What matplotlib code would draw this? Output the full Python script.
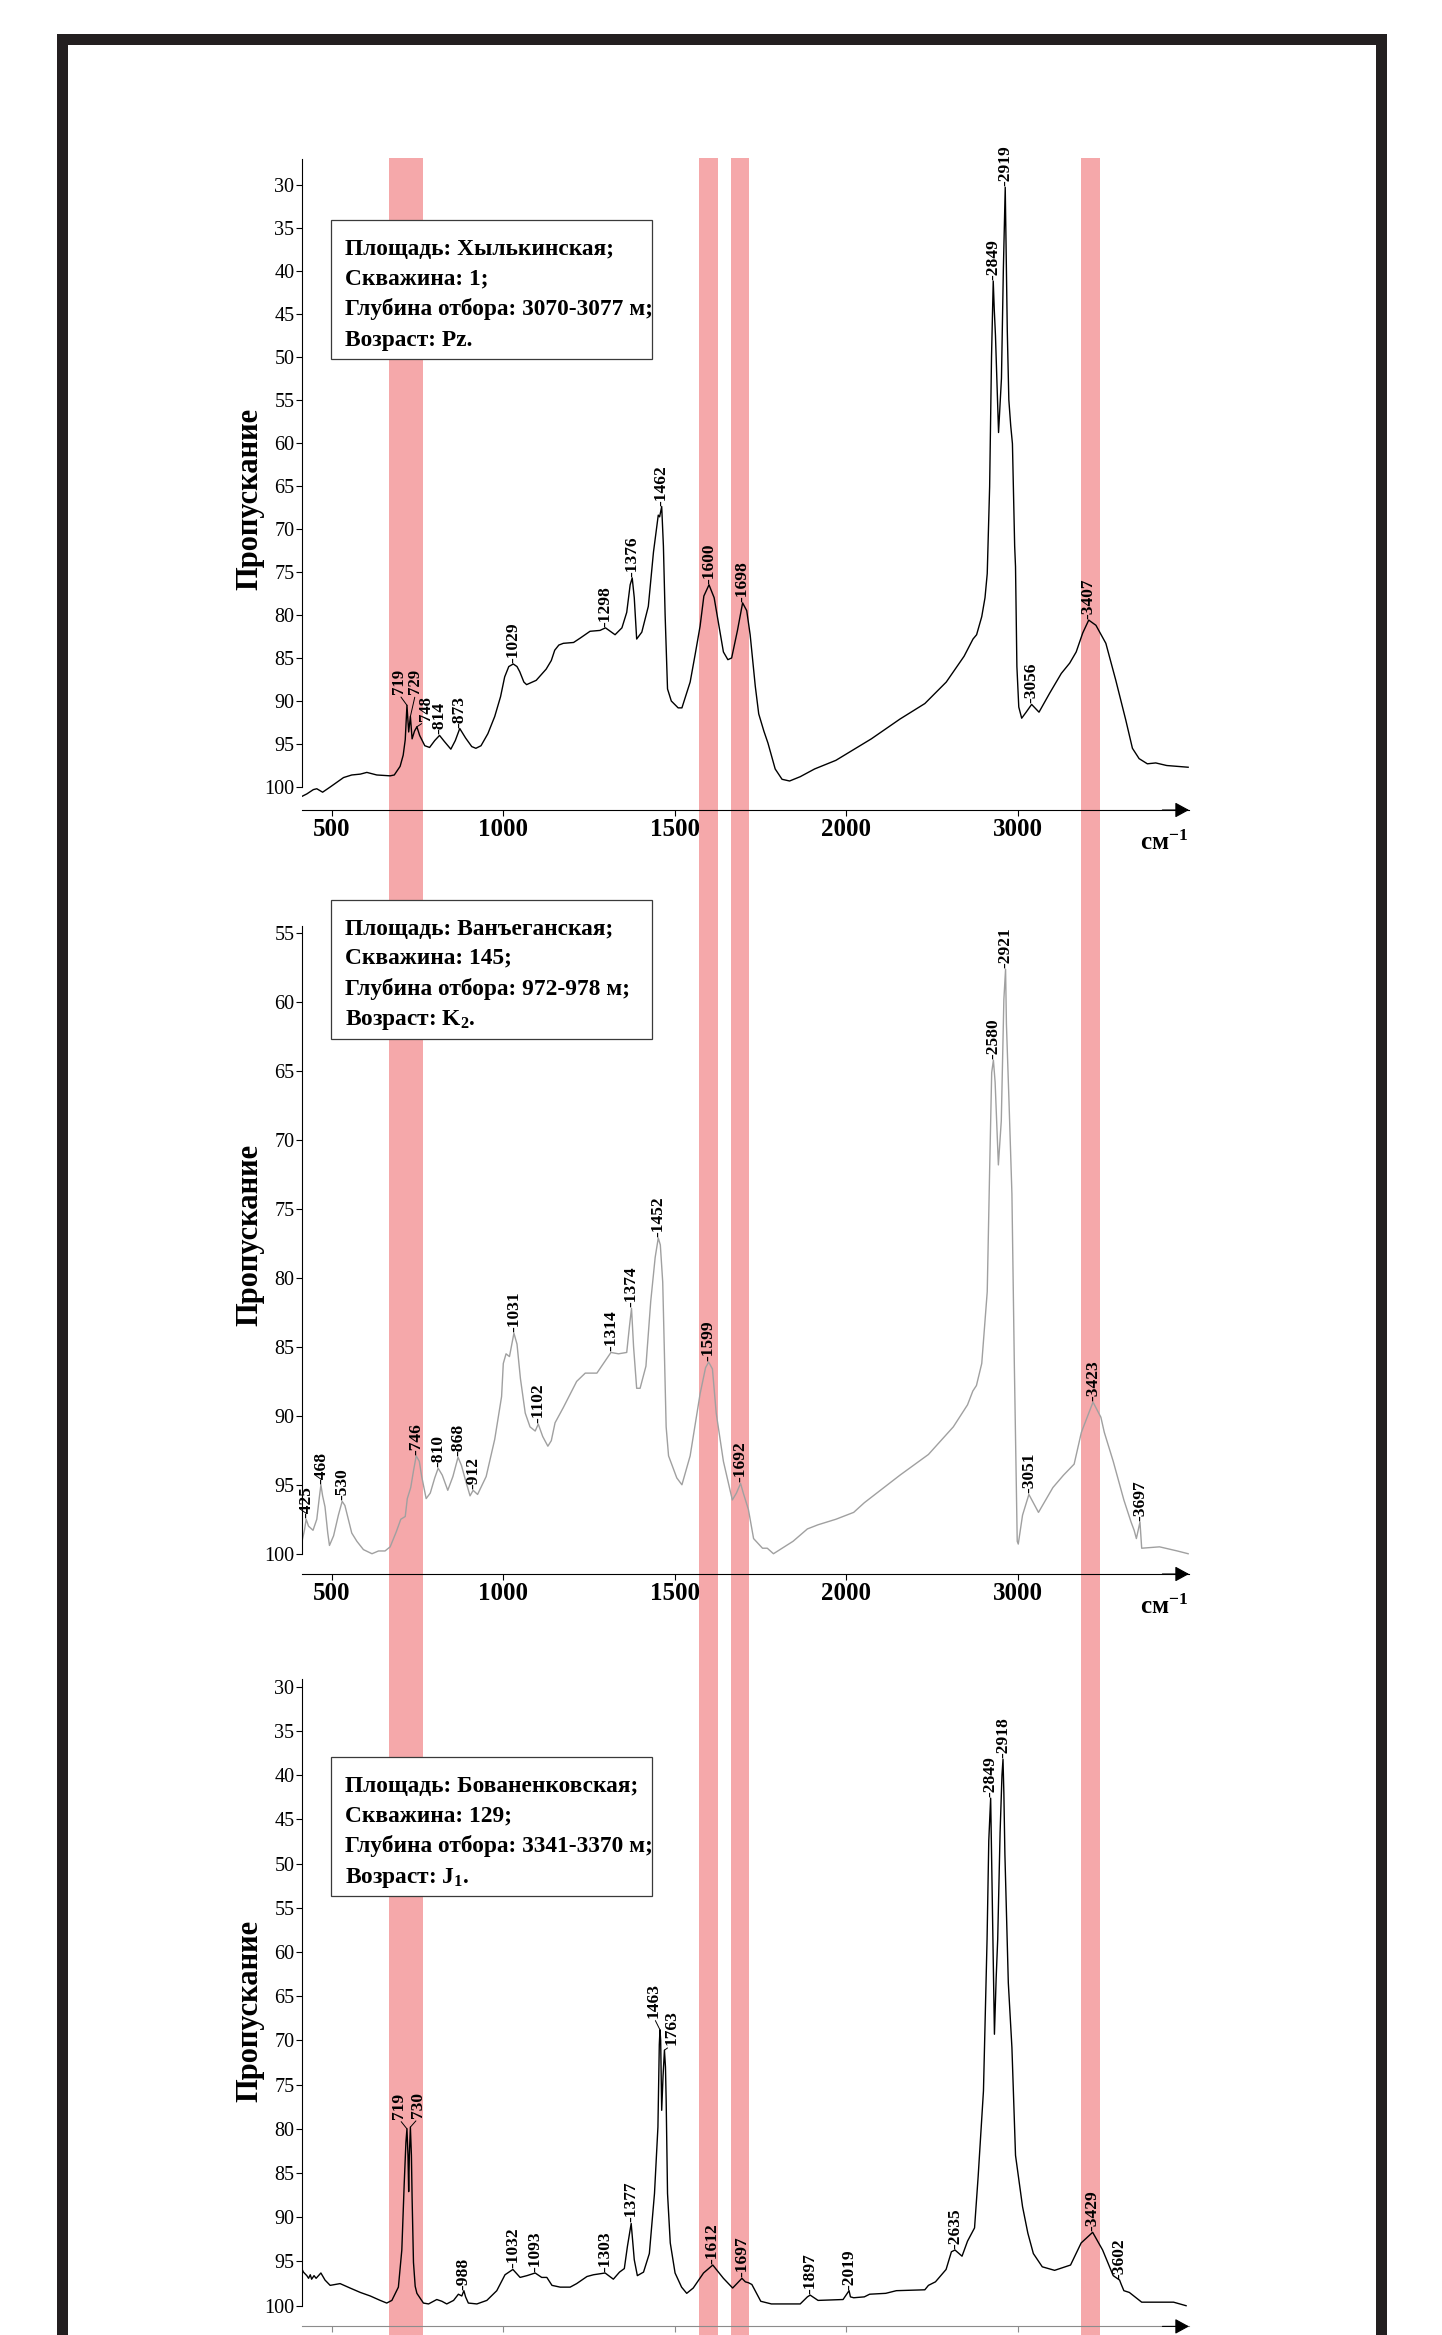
import numpy as np
import matplotlib
matplotlib.use('Agg')
from matplotlib import pyplot as plt
from matplotlib.patches import Rectangle

plt.rcParams['font.family'] = ['Liberation Serif', 'DejaVu Serif']
plt.rcParams['mathtext.fontset'] = 'custom'
plt.rcParams['mathtext.rm'] = 'Liberation Serif:bold'
plt.rcParams['mathtext.it'] = 'Liberation Serif:bold'
plt.rcParams['mathtext.bf'] = 'Liberation Serif:bold'

W, H = 1442, 2335

# absorption bands highlighted across all spectra, cm-1
bands = [(667, 765), (1571, 1625), (1664, 1718), (3370, 3478)]

xticks = [500, 1000, 1500, 2000, 3000]
xtick_labels = ['500', '1000', '1500', '2000', '3000']

# spectrum 1 (wavenumber, transmittance)
spec_1 = np.array([
    (412, 101.1), (427, 100.8), (446, 100.3), (456, 100.2), (473, 100.6), (495, 100.0),
    (534, 98.9), (558, 98.6), (583, 98.5), (602, 98.3), (631, 98.6), (670, 98.7),
    (682, 98.6), (699, 97.6), (708, 96.3), (714, 94.5), (719, 90.5), (724, 93.6),
    (729, 91.8), (734, 94.4), (741, 93.5), (748, 93.0), (756, 94.0), (771, 95.2),
    (785, 95.4), (800, 94.6), (814, 94.0), (828, 94.7), (847, 95.6), (860, 94.6),
    (873, 93.2), (890, 94.3), (908, 95.3), (920, 95.5), (935, 95.2), (955, 93.8),
    (975, 91.8), (992, 89.5), (1004, 87.2), (1016, 86.0), (1029, 85.7), (1040, 86.0),
    (1048, 86.6), (1060, 87.8), (1068, 88.1), (1096, 87.6), (1125, 86.3), (1140, 85.3),
    (1150, 84.1), (1162, 83.5), (1175, 83.3), (1205, 83.2), (1224, 82.7), (1253, 81.9),
    (1282, 81.8), (1298, 81.5), (1312, 81.9), (1326, 82.3), (1346, 81.5), (1360, 79.7),
    (1370, 76.5), (1376, 75.7), (1382, 78.0), (1389, 82.8), (1404, 82.0), (1423, 79.0),
    (1438, 72.7), (1452, 68.4), (1456, 68.6), (1462, 67.4), (1467, 72.0), (1472, 80.0),
    (1479, 88.6), (1490, 90.0), (1510, 90.8), (1521, 90.8), (1545, 87.8), (1560, 84.5),
    (1574, 81.3), (1585, 77.8), (1600, 76.5), (1615, 78.0), (1630, 81.5), (1642, 84.3),
    (1655, 85.2), (1666, 85.0), (1683, 81.8), (1698, 78.6), (1710, 79.5), (1720, 82.3),
    (1735, 88.3), (1745, 91.5), (1760, 93.5), (1772, 94.9), (1793, 97.9), (1813, 99.1),
    (1835, 99.3), (1866, 98.8), (1908, 97.9), (1970, 96.9), (2023, 95.9), (2147, 94.4),
    (2314, 92.1), (2459, 90.3), (2584, 87.8), (2688, 84.8), (2740, 82.8), (2761, 82.3),
    (2791, 80.2), (2810, 78.0), (2823, 75.2), (2837, 65.1), (2848, 50.0), (2858, 41.2),
    (2864, 44.5), (2871, 47.5), (2889, 58.8), (2906, 52.5), (2917, 39.9), (2928, 30.3),
    (2933, 37.4), (2940, 47.0), (2949, 55.0), (2960, 58.0), (2970, 60.1), (2983, 72.0),
    (2988, 74.4), (2996, 86.0), (3007, 90.7), (3024, 92.0), (3050, 91.3), (3082, 90.4),
    (3125, 91.3), (3187, 89.1), (3255, 86.8), (3304, 85.6), (3342, 84.3), (3380, 82.1),
    (3415, 80.6), (3457, 81.2), (3515, 83.3), (3573, 87.6), (3631, 92.2), (3670, 95.5),
    (3709, 96.7), (3757, 97.3), (3806, 97.2), (3870, 97.5), (3995, 97.7),
])
peak_x_1 = [719, 729, 748, 814, 873, 1029, 1298, 1376, 1462, 1600, 1698, 2858, 2928, 3082, 3415]
peak_lbl_1 = ['719', '729', '748', '814', '873', '1029', '1298', '1376', '1462', '1600', '1698',
              '2849', '2919', '3056', '3407']
info_1 = ['Площадь: Хылькинская;', 'Скважина: 1;', 'Глубина отбора: 3070-3077 м;', 'Возраст: Pz.']

# spectrum 2
spec_2 = np.array([
    (412, 99.2), (420, 98.3), (425, 97.5), (432, 98.0), (445, 98.3), (456, 97.5),
    (463, 96.0), (468, 95.0), (473, 95.8), (480, 96.6), (488, 98.5), (493, 99.4),
    (505, 98.7), (519, 97.2), (530, 96.2), (538, 96.5), (548, 97.5), (558, 98.5),
    (573, 99.1), (592, 99.7), (617, 100.0), (636, 99.8), (655, 99.8), (670, 99.5),
    (688, 98.4), (701, 97.5), (714, 97.3), (720, 96.0), (730, 95.2), (738, 94.0),
    (746, 92.9), (755, 93.3), (762, 94.4), (775, 96.0), (787, 95.6), (800, 94.5),
    (810, 93.8), (822, 94.3), (838, 95.4), (853, 94.4), (868, 93.0), (878, 93.6),
    (889, 94.6), (903, 95.8), (912, 95.4), (925, 95.7), (950, 94.4), (975, 91.7),
    (995, 88.6), (1000, 86.2), (1008, 85.5), (1018, 85.7), (1031, 84.0), (1040, 84.8),
    (1050, 87.3), (1064, 89.8), (1078, 90.8), (1093, 91.1), (1102, 90.6), (1115, 91.5),
    (1130, 92.2), (1140, 91.8), (1151, 90.5), (1175, 89.4), (1214, 87.5), (1239, 86.9),
    (1273, 86.9), (1292, 86.2), (1314, 85.4), (1336, 85.5), (1360, 85.4), (1368, 83.5),
    (1374, 82.2), (1380, 85.0), (1389, 88.0), (1399, 88.0), (1416, 86.4), (1430, 81.7),
    (1443, 78.5), (1452, 77.1), (1458, 77.6), (1465, 80.3), (1475, 90.8), (1482, 92.9),
    (1506, 94.5), (1521, 95.0), (1545, 92.9), (1574, 88.4), (1590, 86.5), (1599, 86.1),
    (1610, 86.6), (1621, 89.8), (1642, 93.3), (1668, 96.1), (1680, 95.6), (1692, 94.9),
    (1700, 95.6), (1715, 96.8), (1730, 98.9), (1756, 99.6), (1770, 99.6), (1788, 100.0),
    (1845, 99.1), (1887, 98.2), (1918, 97.9), (1970, 97.5), (2044, 97.0), (2106, 96.3),
    (2314, 94.3), (2480, 92.8), (2625, 90.8), (2708, 89.2), (2739, 88.2), (2760, 87.8),
    (2791, 86.2), (2823, 81.0), (2837, 72.2), (2849, 65.1), (2859, 64.2), (2869, 65.8),
    (2888, 71.8), (2905, 68.6), (2920, 59.8), (2930, 57.6), (2935, 61.6), (2950, 67.2),
    (2967, 73.9), (2981, 86.2), (2998, 99.1), (3004, 99.3), (3029, 97.2), (3066, 95.7),
    (3122, 97.0), (3206, 95.2), (3268, 94.3), (3330, 93.5), (3372, 91.2), (3440, 89.0),
    (3486, 90.1), (3506, 91.2), (3558, 93.3), (3620, 96.1), (3662, 97.7), (3680, 98.3),
    (3693, 98.9), (3714, 97.7), (3724, 99.6), (3828, 99.5), (3932, 99.8), (3995, 100.0),
])
peak_x_2 = [425, 468, 530, 746, 810, 868, 912, 1031, 1102, 1314, 1374, 1452, 1599, 1692,
            2859, 2930, 3066, 3440, 3714]
peak_lbl_2 = ['425', '468', '530', '746', '810', '868', '912', '1031', '1102', '1314', '1374',
              '1452', '1599', '1692', '2580', '2921', '3051', '3423', '3697']
info_2 = ['Площадь: Ванъеганская;', 'Скважина: 145;', 'Глубина отбора: 972-978 м;',
          'Возраст: K$_2$.']

# spectrum 3
spec_3 = np.array([
    (412, 95.8), (417, 96.2), (422, 96.4), (427, 96.6), (432, 96.9), (437, 96.5),
    (441, 97.0), (448, 96.6), (454, 96.9), (468, 96.3), (480, 97.1), (495, 97.7),
    (524, 97.5), (553, 98.0), (583, 98.5), (612, 98.9), (641, 99.4), (660, 99.7),
    (675, 99.4), (694, 97.9), (704, 93.7), (711, 86.2), (716, 81.5), (719, 80.0),
    (722, 83.0), (724, 87.1), (726, 83.0), (729, 79.8), (732, 83.0), (734, 87.8),
    (738, 95.1), (743, 97.8), (748, 98.6), (767, 99.7), (782, 99.8), (806, 99.3),
    (821, 99.5), (835, 99.8), (855, 99.4), (869, 98.7), (879, 98.9), (885, 98.3),
    (890, 99.0), (898, 99.7), (923, 99.8), (952, 99.4), (981, 98.3), (1005, 96.5),
    (1028, 95.9), (1049, 96.8), (1069, 96.6), (1093, 96.3), (1112, 96.8), (1127, 96.8),
    (1142, 97.7), (1166, 97.9), (1195, 97.9), (1214, 97.5), (1244, 96.7), (1263, 96.5),
    (1297, 96.3), (1321, 97.0), (1339, 96.2), (1353, 95.8), (1362, 93.3), (1373, 90.7),
    (1382, 94.8), (1391, 96.6), (1409, 96.2), (1426, 94.1), (1441, 87.3), (1451, 79.8),
    (1455, 70.5), (1457, 68.8), (1459, 70.0), (1462, 77.9), (1466, 74.0), (1470, 71.1),
    (1473, 73.0), (1475, 76.7), (1479, 87.3), (1487, 92.9), (1501, 96.3), (1520, 97.9),
    (1535, 98.6), (1554, 98.0), (1584, 96.3), (1611, 95.4), (1642, 96.9), (1669, 98.0),
    (1696, 96.9), (1706, 97.3), (1715, 97.4), (1725, 97.6), (1751, 99.5), (1782, 99.8),
    (1866, 99.8), (1887, 99.0), (1895, 98.8), (1918, 99.4), (1991, 99.3), (2017, 98.3),
    (2025, 99.0), (2044, 99.1), (2106, 99.0), (2137, 98.7), (2231, 98.6), (2293, 98.3),
    (2459, 98.2), (2480, 97.7), (2521, 97.3), (2583, 95.9), (2614, 93.9), (2635, 93.7),
    (2676, 94.4), (2708, 92.7), (2749, 91.2), (2770, 85.4), (2801, 75.7), (2822, 58.6),
    (2832, 47.4), (2843, 42.6), (2850, 51.3), (2858, 62.0), (2865, 69.3), (2875, 63.0),
    (2884, 58.6), (2898, 46.5), (2909, 40.0), (2915, 38.2), (2920, 42.0), (2926, 48.9),
    (2946, 63.5), (2967, 70.8), (2988, 83.0), (3029, 88.8), (3060, 91.8), (3092, 94.1),
    (3144, 95.6), (3216, 96.0), (3309, 95.4), (3371, 92.9), (3438, 91.7), (3496, 93.7),
    (3558, 96.6), (3595, 97.1), (3605, 97.6), (3620, 98.3), (3652, 98.5), (3724, 99.6),
    (3910, 99.6), (3983, 100.0),
])
peak_x_3 = [719, 729, 885, 1028, 1093, 1297, 1373, 1457, 1470, 1611, 1696, 1895, 2017,
            2635, 2843, 2915, 3438, 3595]
peak_lbl_3 = ['719', '730', '988', '1032', '1093', '1303', '1377', '1463', '1763', '1612',
              '1697', '1897', '2019', '2635', '2849', '2918', '3429', '3602']
info_3 = ['Площадь: Бованенковская;', 'Скважина: 129;', 'Глубина отбора: 3341-3370 м;',
          'Возраст: J$_1$.']


def fwd(x):
    # above 2000 cm-1 the axis is compressed twice
    x = np.asarray(x, float)
    return np.where(x <= 2000, x, 2000 + (x - 2000) * 0.5)


def inv(u):
    u = np.asarray(u, float)
    return np.where(u <= 2000, u, 2000 + (u - 2000) * 2.0)


def fig_rect(x0, y0, x1, y1):
    return [x0 / W, 1 - y1 / H, (x1 - x0) / W, (y1 - y0) / H]


def set_xaxis(ax):
    ax.set_xscale('function', functions=(fwd, inv))
    ax.set_xlim(412, 4000)


def draw_panel(rect, spec, color, ylim, yticks, peak_x, peak_lbl, leaders, ylabel_y,
               axis_color, show_xlabels=True):
    wn, tr = spec[:, 0], spec[:, 1]
    ax = fig.add_axes(rect)
    set_xaxis(ax)
    ax.set_ylim(*ylim)
    ax.patch.set_visible(False)
    ax.plot(wn, tr, color=color, lw=1.0, solid_joinstyle='round')

    for s in ('top', 'right'):
        ax.spines[s].set_visible(False)
    ax.spines['left'].set_bounds(ylim[1], 100)
    ax.spines['left'].set_linewidth(0.8)
    ax.spines['bottom'].set_linewidth(0.8)
    ax.spines['bottom'].set_color(axis_color)

    ax.set_xticks(xticks)
    if show_xlabels:
        ax.set_xticklabels(xtick_labels, fontsize=18, fontweight='bold')
    else:
        ax.set_xticklabels([])
    ax.set_yticks(yticks)
    ax.set_yticklabels([str(v) for v in yticks], fontsize=14.5)
    ax.tick_params(axis='x', direction='out', length=4.3, width=0.8, pad=1.5, color=axis_color)
    ax.tick_params(axis='y', direction='out', length=4.3, width=0.8, pad=1)

    ax.set_ylabel('Пропускание', fontsize=22, fontweight='bold')
    ax.yaxis.set_label_coords(-0.0425, ylabel_y)

    ax.annotate('', xy=(1, 0), xycoords='axes fraction', xytext=(0.97, 0),
                textcoords='axes fraction', annotation_clip=False,
                arrowprops=dict(arrowstyle='-|>,head_length=0.86,head_width=0.47',
                                color='black', lw=0.8, shrinkA=0, shrinkB=0, mutation_scale=10))
    if show_xlabels:
        ax.annotate('см$^{-1}$', xy=(1, 0), xycoords='axes fraction', xytext=(-1, -40),
                    textcoords='offset pixels', ha='right', va='baseline', fontsize=18,
                    fontweight='bold', annotation_clip=False)

    for x, lbl in zip(peak_x, peak_lbl):
        y = np.interp(x, wn, tr)
        if lbl in leaders:
            dx, dy, fs = leaders[lbl]
            ax.annotate(lbl, xy=(x, y), xytext=(dx, dy), textcoords='offset pixels',
                        rotation=90, ha='center', va='bottom', fontsize=fs, fontweight='bold',
                        arrowprops=dict(arrowstyle='-', lw=0.7, color='black',
                                        shrinkA=0, shrinkB=0, relpos=(0.5, 0)))
        else:
            ax.annotate('-' + lbl, xy=(x, y), xytext=(0, 1), textcoords='offset pixels',
                        rotation=90, ha='center', va='bottom', fontsize=12.5, fontweight='bold')
    return ax


def draw_info(top, lines):
    fig.add_artist(Rectangle((331 / W, 1 - (top + 138.5) / H), (651.7 - 331) / W, 138.5 / H,
                             transform=fig.transFigure, facecolor='white',
                             edgecolor='#3a3a3a', lw=0.9, zorder=4))
    for off, line in zip([34.5, 63.7, 95.0, 125.3], lines):
        fig.text(345 / W, 1 - (top + off) / H, line, fontsize=16.8, fontweight='bold',
                 va='baseline', zorder=5)


fig = plt.figure(figsize=(W / 100, H / 100), dpi=100)

# pink bands run through all three spectra
bg = fig.add_axes(fig_rect(301.7, 158, 1189, 2335))
set_xaxis(bg)
bg.axis('off')
for lo, hi in bands:
    bg.axvspan(lo, hi, color='#f5a8aa', lw=0)

yt_a = list(range(30, 101, 5))
yt_b = list(range(55, 101, 5))

# crowded labels with slanted leaders: (dx px, dy px, font size)
draw_panel(fig_rect(301.7, 159.5, 1189, 810), spec_1, 'black', (102.67, 27.07), yt_a,
           peak_x_1, peak_lbl_1,
           {'719': (-8, 11, 12), '729': (5, 22, 12), '748': (9, 6, 12)},
           0.478, 'black')
draw_panel(fig_rect(301.7, 926, 1189, 1574), spec_2, '#a0a0a0', (101.47, 54.47), yt_b,
           peak_x_2, peak_lbl_2, {}, 0.523, 'black')
# the bottom spectrum's tick labels fall below the sheet edge
draw_panel(fig_rect(301.7, 1679.4, 1189, 2326.4), spec_3, 'black', (102.34, 29.17), yt_a,
           peak_x_3, peak_lbl_3,
           {'719': (-8, 10, 12.5), '730': (8, 9, 12.5), '1463': (-6, 12, 12.5),
            '1763': (7, 5, 12.5)},
           0.488, '#8c8c8c', show_xlabels=False)

draw_info(220.3, info_1)
draw_info(900.2, info_2)
draw_info(1757.4, info_3)

# thick black frame, open at the bottom
for x0, y0, x1, y1 in [(57, 34, 68, 2335), (57, 34, 1387, 45), (1376, 34, 1387, 2335)]:
    fig.add_artist(Rectangle((x0 / W, 1 - y1 / H), (x1 - x0) / W, (y1 - y0) / H,
                             transform=fig.transFigure, color='#231f20', lw=0, zorder=10))

fig.savefig('out.png', dpi=100)
